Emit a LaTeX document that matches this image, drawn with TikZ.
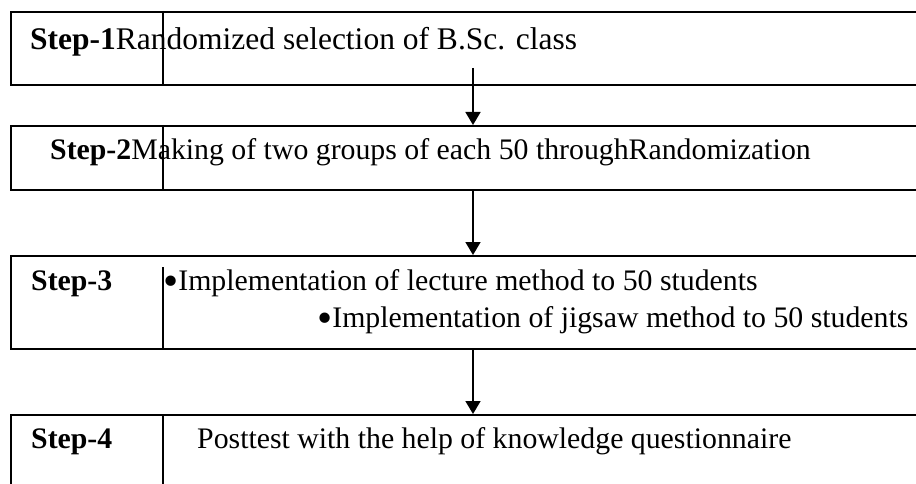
\documentclass[tikz,border=0pt]{standalone}
\usepackage{fontspec}
\setmainfont{Liberation Serif}
\usepackage{tikz}
\usetikzlibrary{arrows.meta}
\newcommand{\dotmark}{\raisebox{-5.5pt}{\scalebox{1.45}{\textbullet}}}
\tikzset{
	box/.style={draw, line width=1.6pt, anchor=north west, minimum width=940pt, inner sep=0pt},
	txt/.style={anchor=base west, inner sep=0pt, font=\fontsize{29.8}{34}\selectfont},
	flow/.style={line width=1.6pt, -{Triangle[width=15pt,length=13pt]}}
}

\begin{document}
\begin{tikzpicture}[x=1pt,y=-1pt]
	\useasboundingbox (0,0) rectangle (916,484);
	\node[box, minimum height=73pt] (step1) at (10,11) {};
	\node[box, minimum height=64pt] (step2) at (10,125) {};
	\node[box, minimum height=93pt] (step3) at (10,255) {};
	\node[box, minimum height=100pt] (step4) at (10,414) {};
	%
	\draw [line width=1.6pt] (163,11) -- (163,84);
	\draw [line width=1.6pt] (163,125) -- (163,189);
	\draw [line width=1.6pt] (163,267) -- (163,348);
	\draw [line width=1.6pt] (163,414) -- (163,514);
	%
	\node[txt, font=\fontsize{31.5}{36}\selectfont] (t1) at (30,50) {\textbf{Step-1}Randomized selection of B.Sc. class};
	\node[txt] (t2) at (50,160) {\textbf{Step-2}Making of two groups of each 50 throughRandomization};
	\node[txt] (t3) at (31,290) {\textbf{Step-3}};
	\node[txt] (t3a) at (163,290) {\dotmark Implementation of lecture method to 50 students};
	\node[txt] (t3b) at (317,327) {\dotmark Implementation of jigsaw method to 50 students};
	\node[txt] (t4) at (31,448) {\textbf{Step-4}};
	\node[txt] (t4a) at (197,448) {Posttest with the help of knowledge questionnaire};
	%
	\coordinate (a1) at (473,68);
	\draw [flow] (a1) to[] (a1 |- step2.north);
	\draw [flow] (step2.south -| a1) to[] (step3.north -| a1);
	\draw [flow] (step3.south -| a1) to[] (step4.north -| a1);
\end{tikzpicture}
\end{document}
